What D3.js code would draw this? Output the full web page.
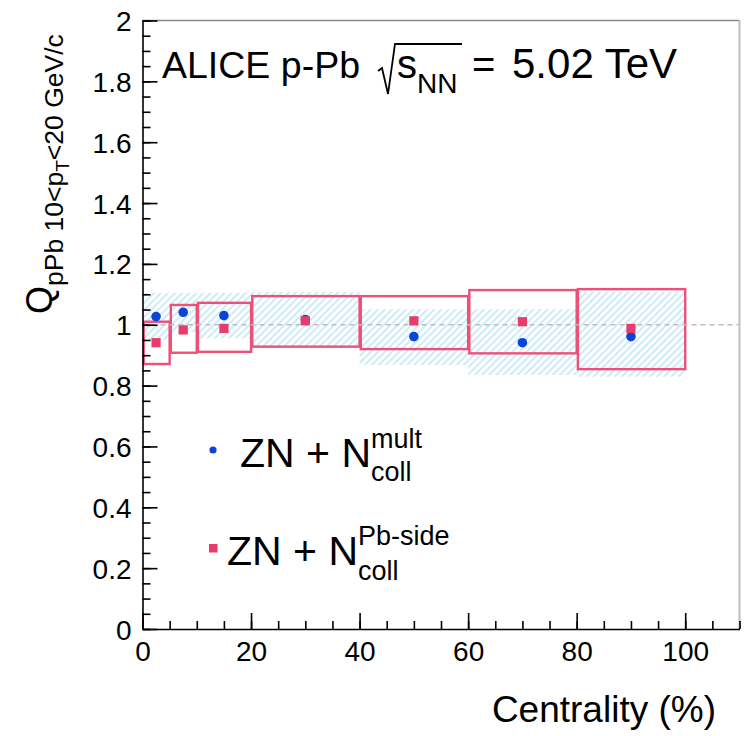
<!DOCTYPE html>
<html>
<head>
<meta charset="utf-8">
<script src="https://cdn.jsdelivr.net/npm/d3@7"></script>
<style>
  body { margin: 0; background: #fff; }
  svg { display: block; font-family: "Liberation Sans", Arial, Helvetica, sans-serif; }
</style>
</head>
<body>
<div id="chart"></div>
<script>
// centrality bins (%)
const binLo = [0, 5, 10, 20, 40, 60, 80];
const binHi = [5, 10, 20, 40, 60, 80, 100];
const binMid = [2.5, 7.5, 15, 30, 50, 70, 90];

// ZN + Ncoll mult (blue circles, hatched syst. boxes)
const multVal = [1.027, 1.041, 1.030, 1.017, 0.961, 0.941, 0.961];
const multSysLo = [0.950, 0.976, 0.955, 0.928, 0.868, 0.835, 0.829];
const multSysHi = [1.105, 1.105, 1.105, 1.108, 1.051, 1.051, 1.108];

// ZN + Ncoll Pb-side (red squares, open syst. boxes)
const pbVal = [0.941, 0.983, 0.988, 1.013, 1.013, 1.010, 0.988];
const pbSysLo = [0.871, 0.908, 0.911, 0.928, 0.920, 0.906, 0.854];
const pbSysHi = [1.010, 1.065, 1.072, 1.094, 1.094, 1.114, 1.117];

// axis ticks
const yTicks = [0, 0.2, 0.4, 0.6, 0.8, 1, 1.2, 1.4, 1.6, 1.8, 2];
const xTicks = [0, 20, 40, 60, 80, 100];
const xDomain = [0, 110];
const yDomain = [0, 2];

const blue = "#0a45d8";
const red = "#e83c6b";
const redLine = "#ee5078";
const hatch = "#b1e1f6";

draw_chart();

function draw_chart() {
  const width = 744, height = 736;
  const left = 142.5, right = 739.5, top = 20.5, bottom = 629;

  const svg = d3.select("#chart").append("svg")
    .attr("width", width)
    .attr("height", height);

  svg.append("rect").attr("width", width).attr("height", height).attr("fill", "#fff");

  const x = d3.scaleLinear().domain(xDomain).range([left, right]);
  const y = d3.scaleLinear().domain(yDomain).range([bottom, top]);

  // hatch pattern for the mult systematics
  const pat = svg.append("defs").append("pattern")
    .attr("id", "hatch")
    .attr("patternUnits", "userSpaceOnUse")
    .attr("width", 5)
    .attr("height", 5)
    .attr("patternTransform", "rotate(45)");
  pat.append("line")
    .attr("x1", 1).attr("y1", 0).attr("x2", 1).attr("y2", 5)
    .attr("stroke", hatch).attr("stroke-width", 1.3);

  // frame (top / right in grey)
  svg.append("line")
    .attr("x1", left).attr("x2", right).attr("y1", top).attr("y2", top)
    .attr("stroke", "#8a8a8a").attr("stroke-width", 1.5);
  svg.append("line")
    .attr("x1", right).attr("x2", right).attr("y1", top).attr("y2", bottom)
    .attr("stroke", "#bdbdbd").attr("stroke-width", 2);

  // hatched boxes
  svg.append("g").selectAll("rect")
    .data(binLo)
    .join("rect")
    .attr("x", (d, i) => x(binLo[i]))
    .attr("width", (d, i) => x(binHi[i]) - x(binLo[i]))
    .attr("y", (d, i) => y(multSysHi[i]))
    .attr("height", (d, i) => y(multSysLo[i]) - y(multSysHi[i]))
    .attr("fill", "url(#hatch)");

  // open boxes
  svg.append("g").selectAll("rect")
    .data(binLo)
    .join("rect")
    .attr("x", (d, i) => x(binLo[i]) + 1.2)
    .attr("width", (d, i) => x(binHi[i]) - x(binLo[i]) - 1.2)
    .attr("y", (d, i) => y(pbSysHi[i]))
    .attr("height", (d, i) => y(pbSysLo[i]) - y(pbSysHi[i]))
    .attr("fill", "none")
    .attr("stroke", redLine)
    .attr("stroke-width", 2.4);

  // reference line at 1
  svg.append("line")
    .attr("x1", x(0)).attr("x2", x(110))
    .attr("y1", y(1)).attr("y2", y(1))
    .attr("stroke", "#bdbdbd")
    .attr("stroke-width", 1.5)
    .attr("stroke-dasharray", "5,4");

  // points
  svg.append("g").selectAll("circle")
    .data(multVal)
    .join("circle")
    .attr("cx", (d, i) => x(binMid[i]))
    .attr("cy", d => y(d))
    .attr("r", 4.8)
    .attr("fill", blue);

  svg.append("g").selectAll("rect")
    .data(pbVal)
    .join("rect")
    .attr("x", (d, i) => x(binMid[i]) - 4.6)
    .attr("y", d => y(d) - 4.6)
    .attr("width", 9.2)
    .attr("height", 9.2)
    .attr("fill", red);

  // y axis, ticks inside
  const yMinor = d3.range(0, 41).map(i => i * 0.05);
  svg.append("g")
    .attr("transform", "translate(" + left + ",0)")
    .call(d3.axisLeft(y).tickValues(yMinor).tickSize(-8).tickSizeOuter(0).tickFormat(""))
    .call(g => g.select(".domain").remove());
  const yAxis = svg.append("g")
    .attr("transform", "translate(" + left + ",0)")
    .call(d3.axisLeft(y).tickValues(yTicks).tickSize(-15).tickSizeOuter(0).tickPadding(11)
      .tickFormat(d => String(+d.toFixed(1))));
  yAxis.selectAll("text").style("font-size", "28px").attr("dy", "0.36em").attr("fill", "#000");
  yAxis.selectAll("line, path").attr("stroke", "#000").attr("stroke-width", 1.6);

  // x axis, ticks inside
  const xMinor = d3.range(0, 23).map(i => i * 5);
  svg.append("g")
    .attr("transform", "translate(0," + bottom + ")")
    .call(d3.axisBottom(x).tickValues(xMinor).tickSize(-8).tickSizeOuter(0).tickFormat(""))
    .call(g => g.select(".domain").remove());
  const xAxis = svg.append("g")
    .attr("transform", "translate(0," + bottom + ")")
    .call(d3.axisBottom(x).tickValues(xTicks).tickSize(-16).tickSizeOuter(0).tickPadding(8));
  xAxis.selectAll("text").style("font-size", "28px").attr("dy", "0.85em").attr("fill", "#000");
  xAxis.selectAll("line, path").attr("stroke", "#000").attr("stroke-width", 1.6);
  svg.selectAll(".tick line").attr("stroke", "#000").attr("stroke-width", 1.6);

  // x title
  svg.append("text")
    .attr("x", 716).attr("y", 722)
    .attr("text-anchor", "end")
    .style("font-size", "37px")
    .text("Centrality (%)");

  // y title
  const yt = svg.append("text")
    .attr("transform", "translate(52,314) rotate(-90)")
    .style("font-size", "36px");
  yt.append("tspan").text("Q");
  yt.append("tspan").attr("dy", 11).style("font-size", "26.5px").text("pPb 10<p");
  yt.append("tspan").attr("dy", 6).style("font-size", "19px").text("T");
  yt.append("tspan").attr("dy", -6).style("font-size", "26.5px").text("<20 GeV/c");

  // title
  svg.append("text").attr("x", 162).attr("y", 78).style("font-size", "37.5px").text("ALICE p-Pb");
  svg.append("path")
    .attr("d", "M378,71 L382,68 L388,94 L395,44 L462,44")
    .attr("fill", "none").attr("stroke", "#000").attr("stroke-width", 1.8);
  const s = svg.append("text").attr("x", 397).attr("y", 78).style("font-size", "40px").text("s");
  const sEnd = 397 + s.node().getComputedTextLength();
  svg.append("text").attr("x", sEnd).attr("y", 93).style("font-size", "28px").text("NN");
  svg.append("text").attr("x", 472).attr("y", 78).style("font-size", "40px").text("=");
  svg.append("text").attr("x", 512).attr("y", 78).style("font-size", "42px").text("5.02 TeV");

  // legend
  svg.append("circle").attr("cx", 213).attr("cy", 450).attr("r", 3.6).attr("fill", blue);
  const l1 = svg.append("text").attr("x", 240).attr("y", 467).style("font-size", "41px").text("ZN + N");
  const e1 = 240 + l1.node().getComputedTextLength();
  svg.append("text").attr("x", e1).attr("y", 448).style("font-size", "27px").text("mult");
  svg.append("text").attr("x", e1).attr("y", 481).style("font-size", "27px").text("coll");

  svg.append("rect").attr("x", 209).attr("y", 544).attr("width", 8.5).attr("height", 8.5).attr("fill", red);
  const l2 = svg.append("text").attr("x", 227).attr("y", 565).style("font-size", "41px").text("ZN + N");
  const e2 = 227 + l2.node().getComputedTextLength();
  svg.append("text").attr("x", e2).attr("y", 545).style("font-size", "27px").text("Pb-side");
  svg.append("text").attr("x", e2).attr("y", 580).style("font-size", "27px").text("coll");
}
</script>
</body>
</html>
